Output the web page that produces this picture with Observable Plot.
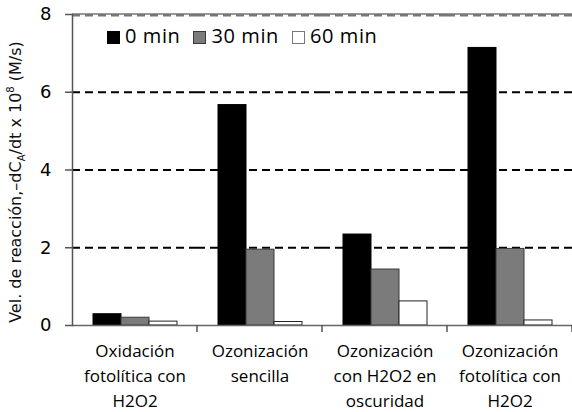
<!DOCTYPE html>
<html><head><meta charset="utf-8">
<script src="https://cdn.jsdelivr.net/npm/d3@7"></script>
<script src="https://cdn.jsdelivr.net/npm/@observablehq/plot@0.6"></script>
<style>
body{margin:0;background:#fff;}
#wrap{position:relative;width:572px;height:412px;overflow:hidden;}
#ylab{position:absolute;left:16px;top:182px;transform:translate(-50%,-50%) rotate(-90deg);white-space:nowrap;font-family:"DejaVu Sans",sans-serif;font-size:16px;color:#111;}
#ylab sub,#ylab sup{font-size:10px;}
#legend{position:absolute;left:107px;top:22px;font-family:"Open Sans",sans-serif;font-size:20px;letter-spacing:0.6px;color:#000;display:flex;gap:13px;align-items:center;}
#legend span.sw{display:inline-block;width:13px;height:13px;margin-right:5px;vertical-align:-1px;box-sizing:border-box;}
</style></head><body><div id="wrap"></div>
<script>
const groups = ["Oxidación\nfotolítica con\nH2O2", "Ozonización\nsencilla", "Ozonización\ncon H2O2 en\noscuridad", "Ozonización\nfotolítica con\nH2O2"];
const series = ["0 min", "30 min", "60 min"];
const v0min  = [0.29, 5.67, 2.34, 7.14];
const v30min = [0.20, 1.95, 1.44, 1.97];
const v60min = [0.10, 0.09, 0.62, 0.13];
const yTicks = [0, 2, 4, 6, 8];
const gridValues = [2, 4, 6];
const topValue = [8];
const seriesFill = ["#000000", "#7b7b7b", "#ffffff"];
const seriesBorder = ["#000000", "#3a3a3a", "#222222"];

const valuesBySeries = [v0min, v30min, v60min];
const rows = groups.flatMap((g, i) => series.map((s, j) => ({group: g, series: s, value: valuesBySeries[j][i]})));

const boundaryTicks = (index, scales, values, dimensions) => {
  const r = scales.x.range();
  const xr = Math.max(r[0], r[1]);
  const y0 = scales.y(0);
  return d3.create("svg:line").attr("x1", xr).attr("x2", xr).attr("y1", y0).attr("y2", y0 + 7)
    .attr("stroke", "#555").attr("stroke-width", 1.5).node();
};

const chart = Plot.plot({
  width: 572, height: 412,
  marginLeft: 72, marginRight: 0, marginTop: 14, marginBottom: 87,
  style: {background: "#fff", overflow: "visible"},
  fx: {domain: groups, padding: 0, axis: null, label: null},
  x: {domain: series, paddingInner: 0, paddingOuter: 0.73, axis: null},
  y: {domain: [0, 8], axis: null},
  color: {domain: series, range: seriesFill},
  marks: [
    Plot.ruleY(gridValues, {stroke: "#000", strokeWidth: 2, strokeDasharray: "8,5"}),
    Plot.ruleY(topValue, {stroke: "#777", strokeWidth: 2, strokeDasharray: "8,5", dy: 1}),
    Plot.ruleY(topValue, {stroke: "#333", strokeWidth: 1, dy: -0.5}),
    ...series.map((s, j) => Plot.barY(rows.filter(d => d.series === s), {fx: "group", x: "series", y: "value", fill: "series", stroke: seriesBorder[j], strokeWidth: 1})),
    Plot.ruleY([0], {stroke: "#666", strokeWidth: 1.5}),
    Plot.frame({anchor: "left", facetAnchor: "left", stroke: "#555", strokeWidth: 1.5}),
    boundaryTicks,
    Plot.axisY({ticks: yTicks, tickSize: 7, tickPadding: 14, fontSize: 18, fontFamily: "DejaVu Sans", stroke: "#555", strokeWidth: 1.5, label: null, tickFormat: d => String(d)}),
    Plot.axisFx({anchor: "bottom", tickSize: 0, tickPadding: 14, fontSize: 17, fontFamily: "Open Sans", lineHeight: 1.47, label: null})
  ]
});

const wrap = document.getElementById("wrap");
wrap.appendChild(chart);

const ylab = document.createElement("div");
ylab.id = "ylab";
ylab.innerHTML = "Vel. de reacción,–dC<sub>A</sub>/dt x 10<sup>8</sup> (M/s)";
wrap.appendChild(ylab);

const legend = document.createElement("div");
legend.id = "legend";
series.forEach((s, j) => {
  const item = document.createElement("div");
  const sw = document.createElement("span");
  sw.className = "sw";
  sw.style.background = seriesFill[j];
  sw.style.border = "1px solid " + (j === 2 ? "#777" : seriesBorder[j]);
  item.appendChild(sw);
  item.appendChild(document.createTextNode(s));
  legend.appendChild(item);
});
wrap.appendChild(legend);
</script></body></html>
